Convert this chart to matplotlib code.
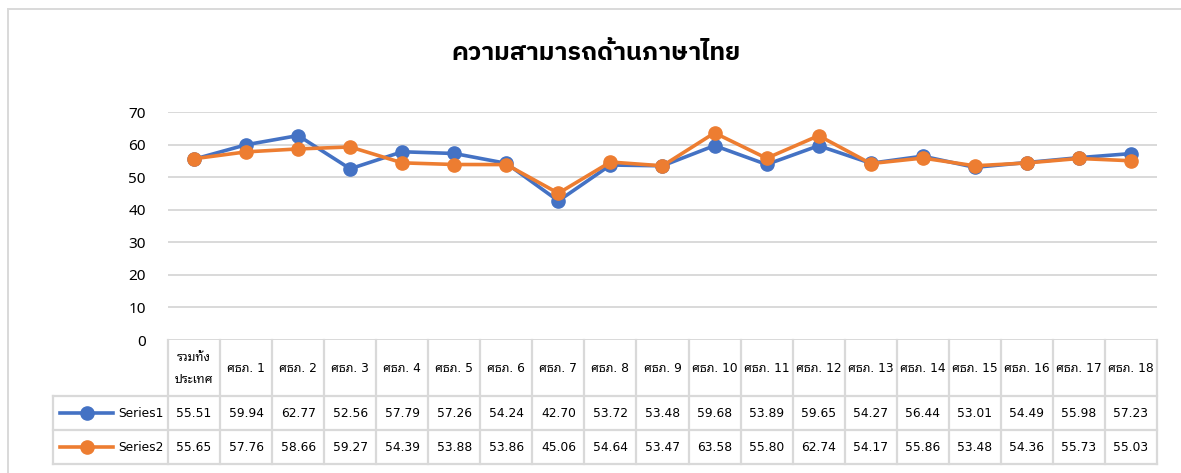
import matplotlib
matplotlib.use("Agg")
import matplotlib.pyplot as plt
from matplotlib.lines import Line2D

# data
categories = ["รวมทั้ง\nประเทศ"] + ["ศธภ. %d" % i for i in range(1, 19)]
series1 = [55.51, 59.94, 62.77, 52.56, 57.79, 57.26, 54.24, 42.70, 53.72, 53.48,
           59.68, 53.89, 59.65, 54.27, 56.44, 53.01, 54.49, 55.98, 57.23]
series2 = [55.65, 57.76, 58.66, 59.27, 54.39, 53.88, 53.86, 45.06, 54.64, 53.47,
           63.58, 55.80, 62.74, 54.17, 55.86, 53.48, 54.36, 55.73, 55.03]
series_names = ["Series1", "Series2"]
yticks = [0, 10, 20, 30, 40, 50, 60, 70]

BLUE = "#4472C4"
ORANGE = "#ED7D31"
GRID = "#D9D9D9"

W, H = 1181, 473
fig = plt.figure(figsize=(W / 100, H / 100), dpi=100)

def fx(px):
    return px / W

def fy(py):
    return 1 - py / H

# plot area (pixel layout)
left, right, top, bottom = 168, 1157, 112, 340
ax = fig.add_axes([fx(left), fy(bottom), fx(right - left), (bottom - top) / H])
n = len(categories)
xs = list(range(n))
ax.set_xlim(-0.5, n - 0.5)
ax.set_ylim(0, 70)
for s in ax.spines.values():
    s.set_visible(False)
ax.set_xticks([])
ax.set_yticks(yticks)
ax.set_yticklabels([str(t) for t in yticks], family=["Noto Sans", "DejaVu Sans"],
                   fontsize=11, color="#000000")
ax.tick_params(axis="y", length=0, pad=16)
for t in yticks:
    ax.axhline(t, color=GRID, lw=1.4, zorder=0)

ax.plot(xs, series1, color=BLUE, lw=2.6, marker="o", ms=9.5, clip_on=False, zorder=3)
ax.plot(xs, series2, color=ORANGE, lw=2.6, marker="o", ms=9.5, clip_on=False, zorder=4)

# title
fig.text(fx(596), fy(53), "ความสามารถด้านภาษาไทย", ha="center", va="center",
         family=["IBM Plex Sans Thai", "Noto Sans Thai"], fontweight="bold", fontsize=18)

# data table
leg_left = 53
rows = [340, 396, 430, 464]
col_w = (right - left) / n
tab = fig.add_axes([0, 0, 1, 1], facecolor="none")
tab.set_xlim(0, W)
tab.set_ylim(H, 0)
tab.axis("off")

tfont = ["DejaVu Sans", "Noto Sans Thai Looped"]
# vertical lines
for i in range(n + 1):
    x = left + i * col_w
    tab.add_line(Line2D([x, x], [rows[0], rows[3]], color=GRID, lw=1.6))
tab.add_line(Line2D([leg_left, leg_left], [rows[1], rows[3]], color=GRID, lw=1.6))
for r in rows[1:]:
    tab.add_line(Line2D([leg_left, right], [r, r], color=GRID, lw=1.6))

hy = (rows[0] + rows[1]) / 2
for i, c in enumerate(categories):
    cx = left + (i + 0.5) * col_w
    tab.text(cx, hy, c, ha="center", va="center", family=tfont, fontsize=8.8,
             linespacing=1.9)

for j, (name, vals, color) in enumerate(zip(series_names, [series1, series2], [BLUE, ORANGE])):
    cy = (rows[j + 1] + rows[j + 2]) / 2
    tab.add_line(Line2D([60, 113], [cy, cy], color=color, lw=2.6))
    tab.add_line(Line2D([87], [cy], color=color, marker="o", ms=9.5))
    tab.text(118, cy, name, ha="left", va="center", family=tfont, fontsize=8.8)
    for i, v in enumerate(vals):
        cx = left + (i + 0.5) * col_w
        tab.text(cx, cy, "%.2f" % v, ha="center", va="center", family=tfont, fontsize=8.8)

# chart border
tab.add_line(Line2D([8, 8], [9, H + 5], color=GRID, lw=1.4))
tab.add_line(Line2D([8, W + 5], [9, 9], color=GRID, lw=1.4))

fig.savefig("out.png", dpi=100)
